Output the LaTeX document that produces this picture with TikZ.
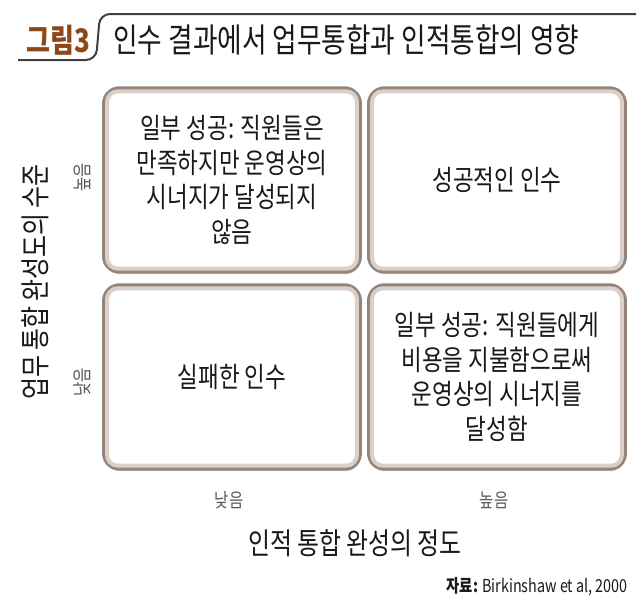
\documentclass[tikz,border=0pt]{standalone}
\usepackage{fontspec}
\setmainfont{Noto Sans CJK KR}[FakeStretch=0.8]
\usetikzlibrary{positioning, calc, shadows}
\usepackage{xcolor}
\definecolor{framegray}{RGB}{148, 132, 122}
\definecolor{glowgray}{RGB}{218, 208, 201}
\definecolor{figbrown}{RGB}{140, 72, 22}
\definecolor{textdark}{RGB}{25, 25, 25}
\definecolor{ticktext}{RGB}{90, 90, 90}

\begin{document}
\begin{tikzpicture}[
  x=0.02cm, y=-0.02cm,
  every node/.style={text=textdark, inner sep=0pt},
  cell/.style={rectangle, rounded corners=0.3cm, draw=framegray, line width=0.1cm,
               fill=white, minimum width=5.1cm, minimum height=3.65cm, align=center,
               font=\fontsize{16}{19.8}\selectfont,
               drop shadow={shadow xshift=0.03cm, shadow yshift=-0.06cm, opacity=0.3}},
  cellglow/.style={draw=glowgray, line width=0.08cm, rounded corners=0.22cm},
  axislabel/.style={font=\fontsize{17}{20}\selectfont},
  ticklabel/.style={font=\fontsize{11}{13}\selectfont, text=ticktext}
]
\useasboundingbox (0,0) rectangle (640,609);

% Heading with bracket line
\draw[line width=0.04cm, black!75, rounded corners=0.2cm]
  (18,60) -- (96,60) -- (100,14) -- (636,14);
\node[font=\bfseries\fontsize{18.5}{22}\selectfont, text=figbrown] (fignum) at (58,40) {그림3};
\node[font=\fontsize{19}{22}\selectfont, anchor=west] (heading) at (113,40)
  {인수 결과에서 업무통합과 인적통합의 영향};

% Four result cells, 2x2
\node[cell] (tl) at (232,180) {일부 성공: 직원들은\\만족하지만 운영상의\\시너지가 달성되지\\않음};
\node[cell] (tr) at (497,180) {성공적인 인수};
\node[cell] (bl) at (232,377) {실패한 인수};
\node[cell] (br) at (497,377) {일부 성공: 직원들에게\\비용을 지불함으로써\\운영상의 시너지를\\달성함};

% soft inner rim of each cell
\foreach \c in {tl,tr,bl,br}{
  \draw[cellglow] ($(\c.north west)+(5,5)$) rectangle ($(\c.south east)+(-5,-5)$);
}

% Vertical axis
\node[axislabel, rotate=90] (ylab) at (35,282) {업무 통합 완성도의 수준};
\node[ticklabel, rotate=90] (yhigh) at (82,177) {높음};
\node[ticklabel, rotate=90] (ylow) at (82,382) {낮음};

% Horizontal axis
\node[ticklabel] (xlow) at (229,500) {낮음};
\node[ticklabel] (xhigh) at (494,500) {높음};
\node[axislabel] (xlab) at (355,543) {인적 통합 완성의 정도};

% Source
\node[font=\fontsize{10.2}{12}\selectfont, anchor=east] (source) at (628,587)
  {\textbf{자료:} Birkinshaw et al, 2000};

\end{tikzpicture}
\end{document}
